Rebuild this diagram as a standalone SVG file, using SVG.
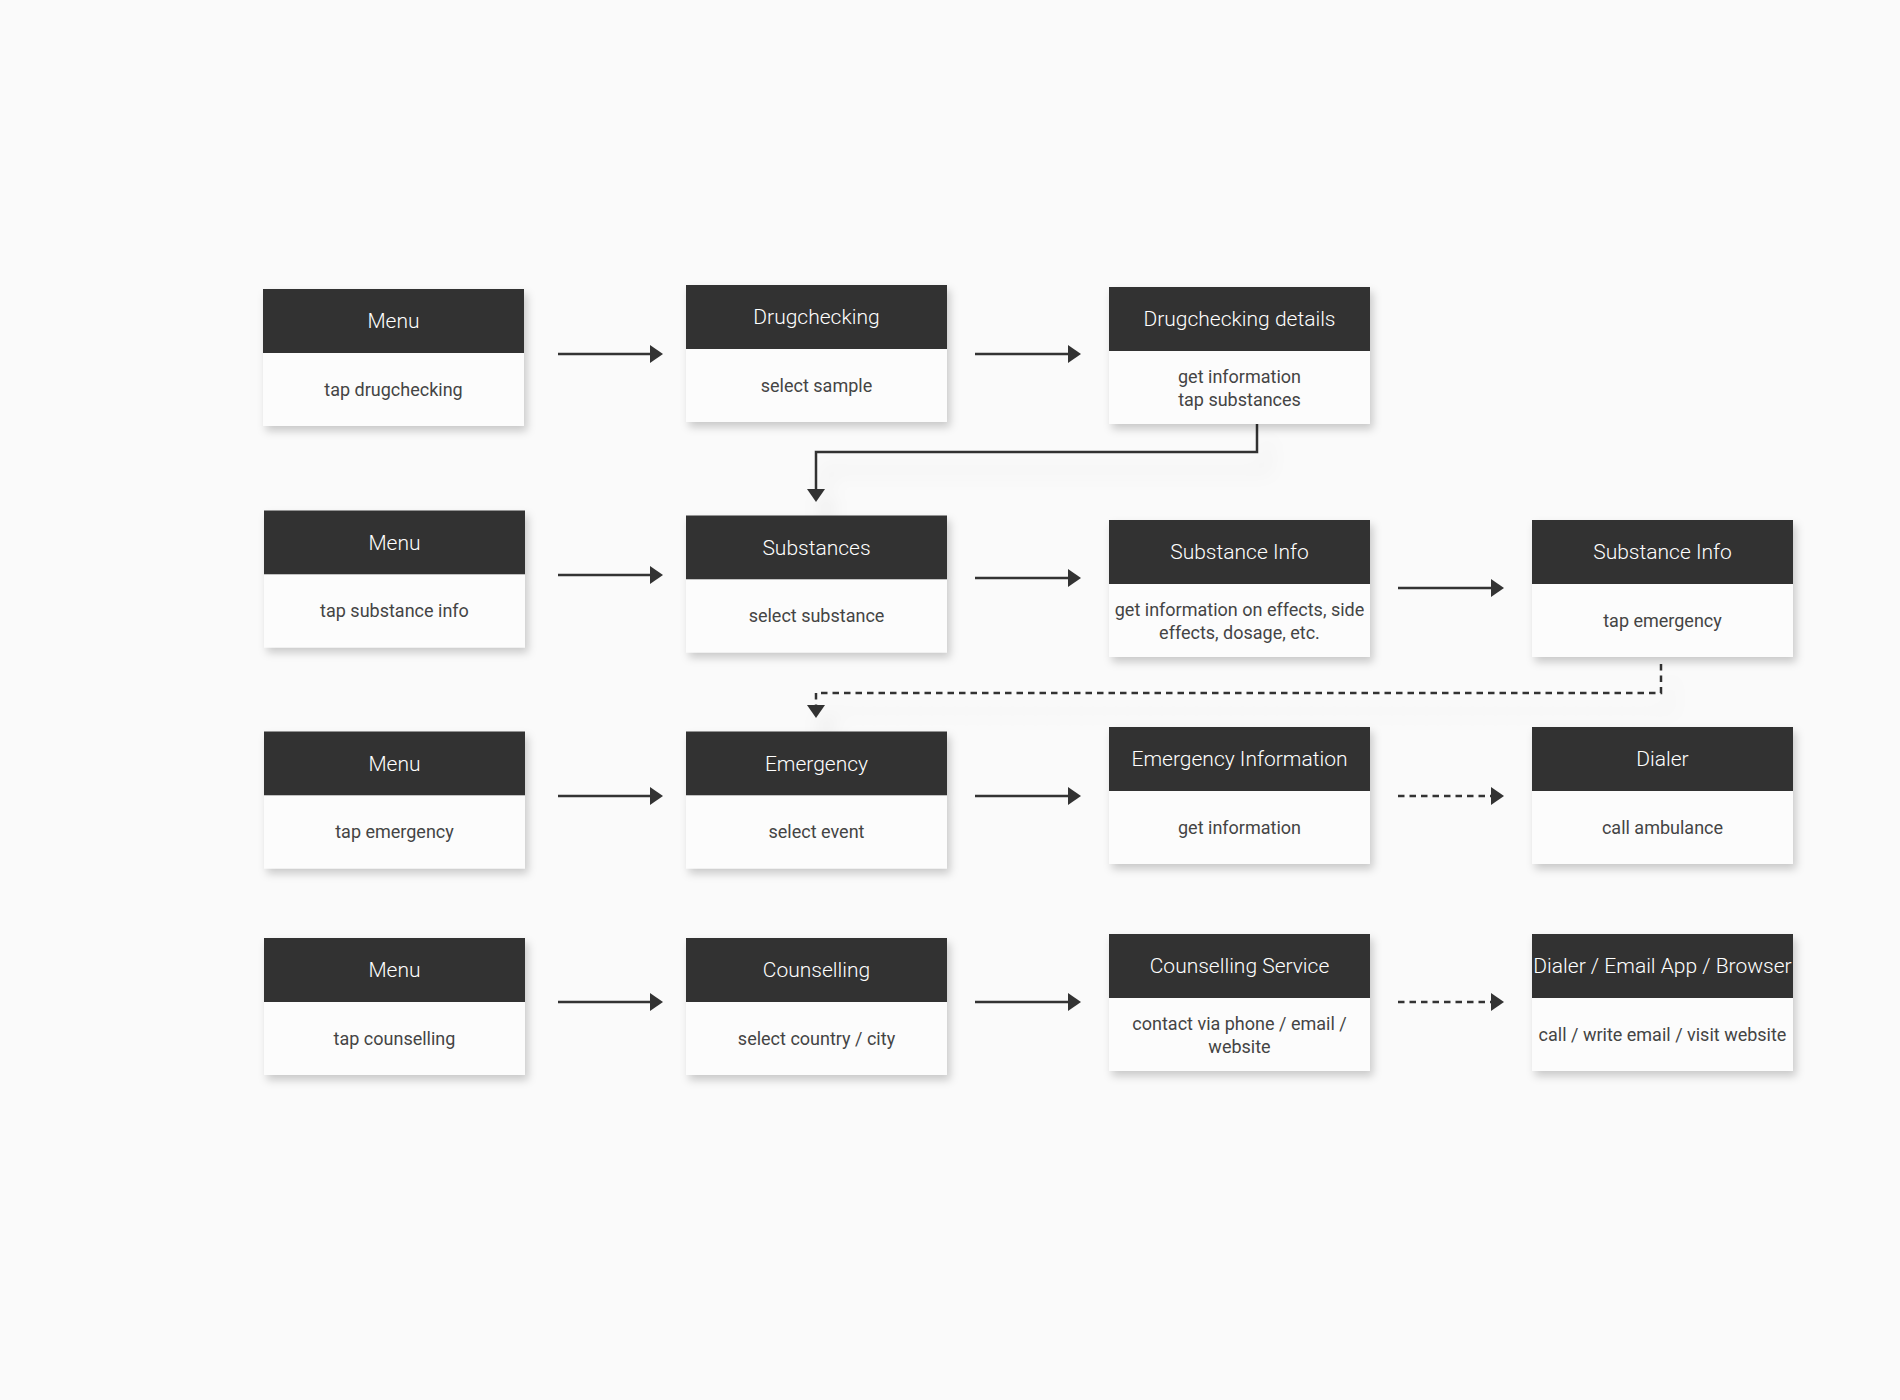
<svg xmlns="http://www.w3.org/2000/svg" width="1900" height="1400" viewBox="0 0 1900 1400">
<defs>
<filter id="boxShadow" x="-10%" y="-10%" width="125%" height="130%">
<feDropShadow dx="3" dy="5" stdDeviation="4" flood-color="#000" flood-opacity="0.2"/>
</filter>
<filter id="lineShadow" x="-10%" y="-50%" width="125%" height="250%">
<feDropShadow dx="10" dy="18" stdDeviation="9" flood-color="#000" flood-opacity="0.10"/>
</filter>
<marker id="arrow" markerUnits="userSpaceOnUse" markerWidth="13" markerHeight="18" refX="0" refY="9" orient="auto">
<path d="M0,0 L13,9 L0,18 z" fill="#333"/>
</marker>
<style>
.hd{fill:#333333}
.bd{fill:#fcfcfc}
.ht{font-family:Roboto,"Liberation Sans",sans-serif;font-weight:300;font-size:21px;fill:#ffffff;text-anchor:middle}
.bt{font-family:Roboto,"Liberation Sans",sans-serif;font-weight:400;font-size:18px;fill:#444444;text-anchor:middle}
.ln{fill:none;stroke:#333;stroke-width:2.5}
.dl{fill:none;stroke:#333;stroke-width:2.5;stroke-dasharray:6.5 5}
</style>
</defs>
<rect x="0" y="0" width="1900" height="1400" fill="#fafafa"/>

<g id="connectors">
<line class="ln" x1="558" y1="354" x2="650" y2="354" marker-end="url(#arrow)"/>
<line class="ln" x1="975" y1="354" x2="1068" y2="354" marker-end="url(#arrow)"/>
<path class="ln" filter="url(#lineShadow)" d="M1257,423 V452 H816 V489" marker-end="url(#arrow)"/>
<line class="ln" x1="558" y1="575" x2="650" y2="575" marker-end="url(#arrow)"/>
<line class="ln" x1="975" y1="578" x2="1068" y2="578" marker-end="url(#arrow)"/>
<line class="ln" x1="1398" y1="588" x2="1491" y2="588" marker-end="url(#arrow)"/>
<path class="dl" filter="url(#lineShadow)" d="M1661,664 V693 H816 V705" marker-end="url(#arrow)"/>
<line class="ln" x1="558" y1="796" x2="650" y2="796" marker-end="url(#arrow)"/>
<line class="ln" x1="975" y1="796" x2="1068" y2="796" marker-end="url(#arrow)"/>
<line class="dl" x1="1398" y1="796" x2="1491" y2="796" marker-end="url(#arrow)"/>
<line class="ln" x1="558" y1="1002" x2="650" y2="1002" marker-end="url(#arrow)"/>
<line class="ln" x1="975" y1="1002" x2="1068" y2="1002" marker-end="url(#arrow)"/>
<line class="dl" x1="1398" y1="1002" x2="1491" y2="1002" marker-end="url(#arrow)"/>
</g>

<g id="menu-1">
<g filter="url(#boxShadow)"><rect class="hd" x="263" y="289" width="261" height="64"/><rect class="bd" x="263" y="353" width="261" height="73"/></g>
<text class="ht" x="393.5" y="328">Menu</text>
<text class="bt" x="393.5" y="396">tap drugchecking</text>
</g>
<g id="drugchecking">
<g filter="url(#boxShadow)"><rect class="hd" x="686" y="285" width="261" height="64"/><rect class="bd" x="686" y="349" width="261" height="73"/></g>
<text class="ht" x="816.5" y="324">Drugchecking</text>
<text class="bt" x="816.5" y="392">select sample</text>
</g>
<g id="drugchecking-details">
<g filter="url(#boxShadow)"><rect class="hd" x="1109" y="287" width="261" height="64"/><rect class="bd" x="1109" y="351" width="261" height="73"/></g>
<text class="ht" x="1239.5" y="326">Drugchecking details</text>
<text class="bt" x="1239.5" y="382.5">get information</text>
<text class="bt" x="1239.5" y="405.5">tap substances</text>
</g>

<g id="menu-2">
<g filter="url(#boxShadow)"><rect class="hd" x="264" y="510.5" width="261" height="64"/><rect class="bd" x="264" y="574.5" width="261" height="73"/></g>
<text class="ht" x="394.5" y="549.5">Menu</text>
<text class="bt" x="394.5" y="617">tap substance info</text>
</g>
<g id="substances">
<g filter="url(#boxShadow)"><rect class="hd" x="686" y="515.5" width="261" height="64"/><rect class="bd" x="686" y="579.5" width="261" height="73"/></g>
<text class="ht" x="816.5" y="554.5">Substances</text>
<text class="bt" x="816.5" y="622">select substance</text>
</g>
<g id="substance-info-1">
<g filter="url(#boxShadow)"><rect class="hd" x="1109" y="520" width="261" height="64"/><rect class="bd" x="1109" y="584" width="261" height="73"/></g>
<text class="ht" x="1239.5" y="559">Substance Info</text>
<text class="bt" x="1239.5" y="616">get information on effects, side</text>
<text class="bt" x="1239.5" y="639">effects, dosage, etc.</text>
</g>
<g id="substance-info-2">
<g filter="url(#boxShadow)"><rect class="hd" x="1532" y="520" width="261" height="64"/><rect class="bd" x="1532" y="584" width="261" height="73"/></g>
<text class="ht" x="1662.5" y="559">Substance Info</text>
<text class="bt" x="1662.5" y="626.5">tap emergency</text>
</g>

<g id="menu-3">
<g filter="url(#boxShadow)"><rect class="hd" x="264" y="731.5" width="261" height="64"/><rect class="bd" x="264" y="795.5" width="261" height="73"/></g>
<text class="ht" x="394.5" y="770.5">Menu</text>
<text class="bt" x="394.5" y="838">tap emergency</text>
</g>
<g id="emergency">
<g filter="url(#boxShadow)"><rect class="hd" x="686" y="731.5" width="261" height="64"/><rect class="bd" x="686" y="795.5" width="261" height="73"/></g>
<text class="ht" x="816.5" y="770.5">Emergency</text>
<text class="bt" x="816.5" y="838">select event</text>
</g>
<g id="emergency-information">
<g filter="url(#boxShadow)"><rect class="hd" x="1109" y="727" width="261" height="64"/><rect class="bd" x="1109" y="791" width="261" height="73"/></g>
<text class="ht" x="1239.5" y="766">Emergency Information</text>
<text class="bt" x="1239.5" y="833.5">get information</text>
</g>
<g id="dialer">
<g filter="url(#boxShadow)"><rect class="hd" x="1532" y="727" width="261" height="64"/><rect class="bd" x="1532" y="791" width="261" height="73"/></g>
<text class="ht" x="1662.5" y="766">Dialer</text>
<text class="bt" x="1662.5" y="833.5">call ambulance</text>
</g>

<g id="menu-4">
<g filter="url(#boxShadow)"><rect class="hd" x="264" y="938" width="261" height="64"/><rect class="bd" x="264" y="1002" width="261" height="73"/></g>
<text class="ht" x="394.5" y="977">Menu</text>
<text class="bt" x="394.5" y="1044.5">tap counselling</text>
</g>
<g id="counselling">
<g filter="url(#boxShadow)"><rect class="hd" x="686" y="938" width="261" height="64"/><rect class="bd" x="686" y="1002" width="261" height="73"/></g>
<text class="ht" x="816.5" y="977">Counselling</text>
<text class="bt" x="816.5" y="1044.5">select country / city</text>
</g>
<g id="counselling-service">
<g filter="url(#boxShadow)"><rect class="hd" x="1109" y="934" width="261" height="64"/><rect class="bd" x="1109" y="998" width="261" height="73"/></g>
<text class="ht" x="1239.5" y="973">Counselling Service</text>
<text class="bt" x="1239.5" y="1030">contact via phone / email /</text>
<text class="bt" x="1239.5" y="1053">website</text>
</g>
<g id="dialer-email-browser">
<g filter="url(#boxShadow)"><rect class="hd" x="1532" y="934" width="261" height="64"/><rect class="bd" x="1532" y="998" width="261" height="73"/></g>
<text class="ht" x="1662.5" y="973">Dialer / Email App / Browser</text>
<text class="bt" x="1662.5" y="1040.5">call / write email / visit website</text>
</g>
</svg>
